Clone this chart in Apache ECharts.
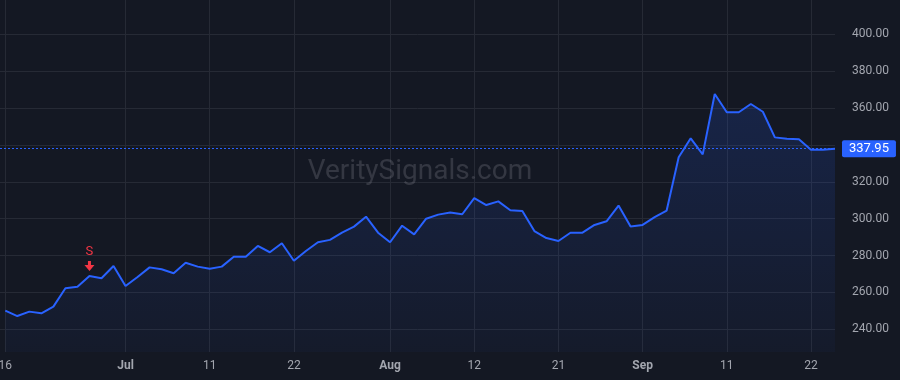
<!DOCTYPE html>
<html>
<head>
<meta charset="utf-8">
<script src="https://cdn.jsdelivr.net/npm/echarts@6/dist/echarts.min.js"></script>
<style>
  html, body { margin: 0; padding: 0; background: #141823; }
  #chart { width: 900px; height: 380px; }
</style>
</head>
<body>
<div id="chart"></div>
<script>
// Trading days (2025)
const dates = [
  '06-16','06-17','06-18','06-20','06-23','06-24','06-25','06-26','06-27','06-30',
  '07-01','07-02','07-03','07-07','07-08','07-09','07-10','07-11','07-14','07-15',
  '07-16','07-17','07-18','07-21','07-22','07-23','07-24','07-25','07-28','07-29',
  '07-30','07-31','08-01','08-04','08-05','08-06','08-07','08-08','08-11','08-12',
  '08-13','08-14','08-15','08-18','08-19','08-20','08-21','08-22','08-25','08-26',
  '08-27','08-28','08-29','09-02','09-03','09-04','09-05','09-08','09-09','09-10',
  '09-11','09-12','09-15','09-16','09-17','09-18','09-19','09-22','09-23','09-24'
];
const prices = [
  250.1, 247.2, 249.6, 248.7, 252.3, 262.3, 263.1, 268.9, 267.7, 274.3,
  263.5, 268.4, 273.6, 272.6, 270.4, 276.1, 274.0, 272.9, 274.0, 279.4,
  279.4, 285.2, 281.8, 286.7, 277.2, 282.5, 287.2, 288.5, 292.4, 295.7,
  301.1, 292.4, 287.2, 296.2, 291.5, 300.0, 302.2, 303.3, 302.4, 311.2,
  307.4, 309.4, 304.6, 304.2, 293.3, 289.5, 287.9, 292.4, 292.4, 296.6,
  298.6, 307.1, 295.7, 296.6, 300.8, 304.4, 333.3, 343.6, 334.9, 367.6,
  357.7, 357.7, 362.2, 358.0, 344.1, 343.4, 343.1, 337.4, 337.4, 337.95
];
const tickDates  = ['06-16','07-01','07-11','07-22','08-01','08-12','08-21','09-02','09-11','09-22'];
const tickLabels = ['16','Jul','11','22','Aug','12','21','Sep','11','22'];
const monthLabels = ['Jul','Aug','Sep'];
const priceTicks = [240, 260, 280, 300, 320, 340, 360, 380, 400];
const priceLabelTicks = [240, 260, 280, 300, 320, 360, 380, 400];
const lastPrice = 337.95;
const signalDate = '06-26';
const signalText = 'S';

const tickIdx = tickDates.map(d => dates.indexOf(d));
const seriesData = prices.map((v, i) => [i, v]);
const sigIdx = dates.indexOf(signalDate);

const chart = echarts.init(document.getElementById('chart'), null, { renderer: 'canvas' });
const FONT = 'Roboto, "Liberation Sans", sans-serif';

chart.setOption({
  animation: false,
  backgroundColor: '#141823',
  textStyle: { fontFamily: FONT },
  grid: { left: 0, right: 65, top: 0, bottom: 28, containLabel: false, outerBoundsMode: 'none' },
  graphic: [{
    type: 'text',
    x: 420, y: 172,
    style: {
      text: 'VeritySignals.com',
      font: '28px ' + FONT,
      fill: 'rgba(178,181,190,0.2)',
      textAlign: 'center',
      textVerticalAlign: 'middle'
    },
    z: 1
  }],
  xAxis: {
    type: 'value',
    min: -0.44,
    max: 69,
    axisLine: { show: false },
    axisTick: { show: false, customValues: tickIdx },
    splitLine: { show: true, lineStyle: { color: '#262a35', width: 1 } },
    axisLabel: {
      customValues: tickIdx,
      margin: 8,
      color: '#a3a6af',
      fontSize: 12,
      fontFamily: FONT,
      hideOverlap: false,
      formatter: function (v) {
        const k = tickIdx.indexOf(Math.round(v));
        if (k < 0) return '';
        const t = tickLabels[k];
        return monthLabels.indexOf(t) >= 0 ? '{b|' + t + '}' : t;
      },
      rich: { b: { fontWeight: 'bold', color: '#a3a6af', fontSize: 12, fontFamily: FONT } }
    }
  },
  yAxis: {
    type: 'value',
    position: 'right',
    min: 227.7,
    max: 418.6,
    axisLine: { show: false },
    axisTick: { show: false, customValues: priceTicks },
    splitLine: { show: true, lineStyle: { color: '#262a35', width: 1 } },
    axisLabel: {
      customValues: priceLabelTicks,
      margin: 17,
      color: '#a3a6af',
      fontSize: 12,
      fontFamily: FONT,
      formatter: v => v.toFixed(2)
    }
  },
  series: [{
    type: 'line',
    data: seriesData,
    showSymbol: false,
    smooth: false,
    z: 3,
    lineStyle: { color: '#2962ff', width: 2 },
    itemStyle: { color: '#2962ff' },
    areaStyle: {
      color: new echarts.graphic.LinearGradient(0, 0, 0, 1, [
        { offset: 0, color: 'rgba(41,98,255,0.24)' },
        { offset: 1, color: 'rgba(41,98,255,0.05)' }
      ])
    },
    markLine: {
      silent: true,
      symbol: ['none', 'none'],
      lineStyle: { color: '#2962ff', type: [2, 2], width: 1 },
      label: {
        show: true,
        position: 'end',
        distance: 7,
        formatter: () => lastPrice.toFixed(2),
        color: '#ffffff',
        backgroundColor: '#2962ff',
        fontSize: 13,
        fontFamily: FONT,
        padding: [2, 7, 2, 7],
        borderRadius: 2
      },
      data: [{ yAxis: lastPrice }]
    },
    markPoint: {
      silent: true,
      data: [{
        coord: [sigIdx, prices[sigIdx]],
        symbol: 'path://M3.5,0 L6.5,0 L6.5,4 L10,4 L5,10 L0,4 L3.5,4 Z',
        symbolSize: [10, 10],
        symbolOffset: [0, -10],
        itemStyle: { color: '#f23645' },
        label: {
          show: true,
          position: 'top',
          distance: 3,
          formatter: signalText,
          color: '#f23645',
          fontSize: 13,
          fontFamily: FONT
        }
      }]
    }
  }]
});
</script>
</body>
</html>
